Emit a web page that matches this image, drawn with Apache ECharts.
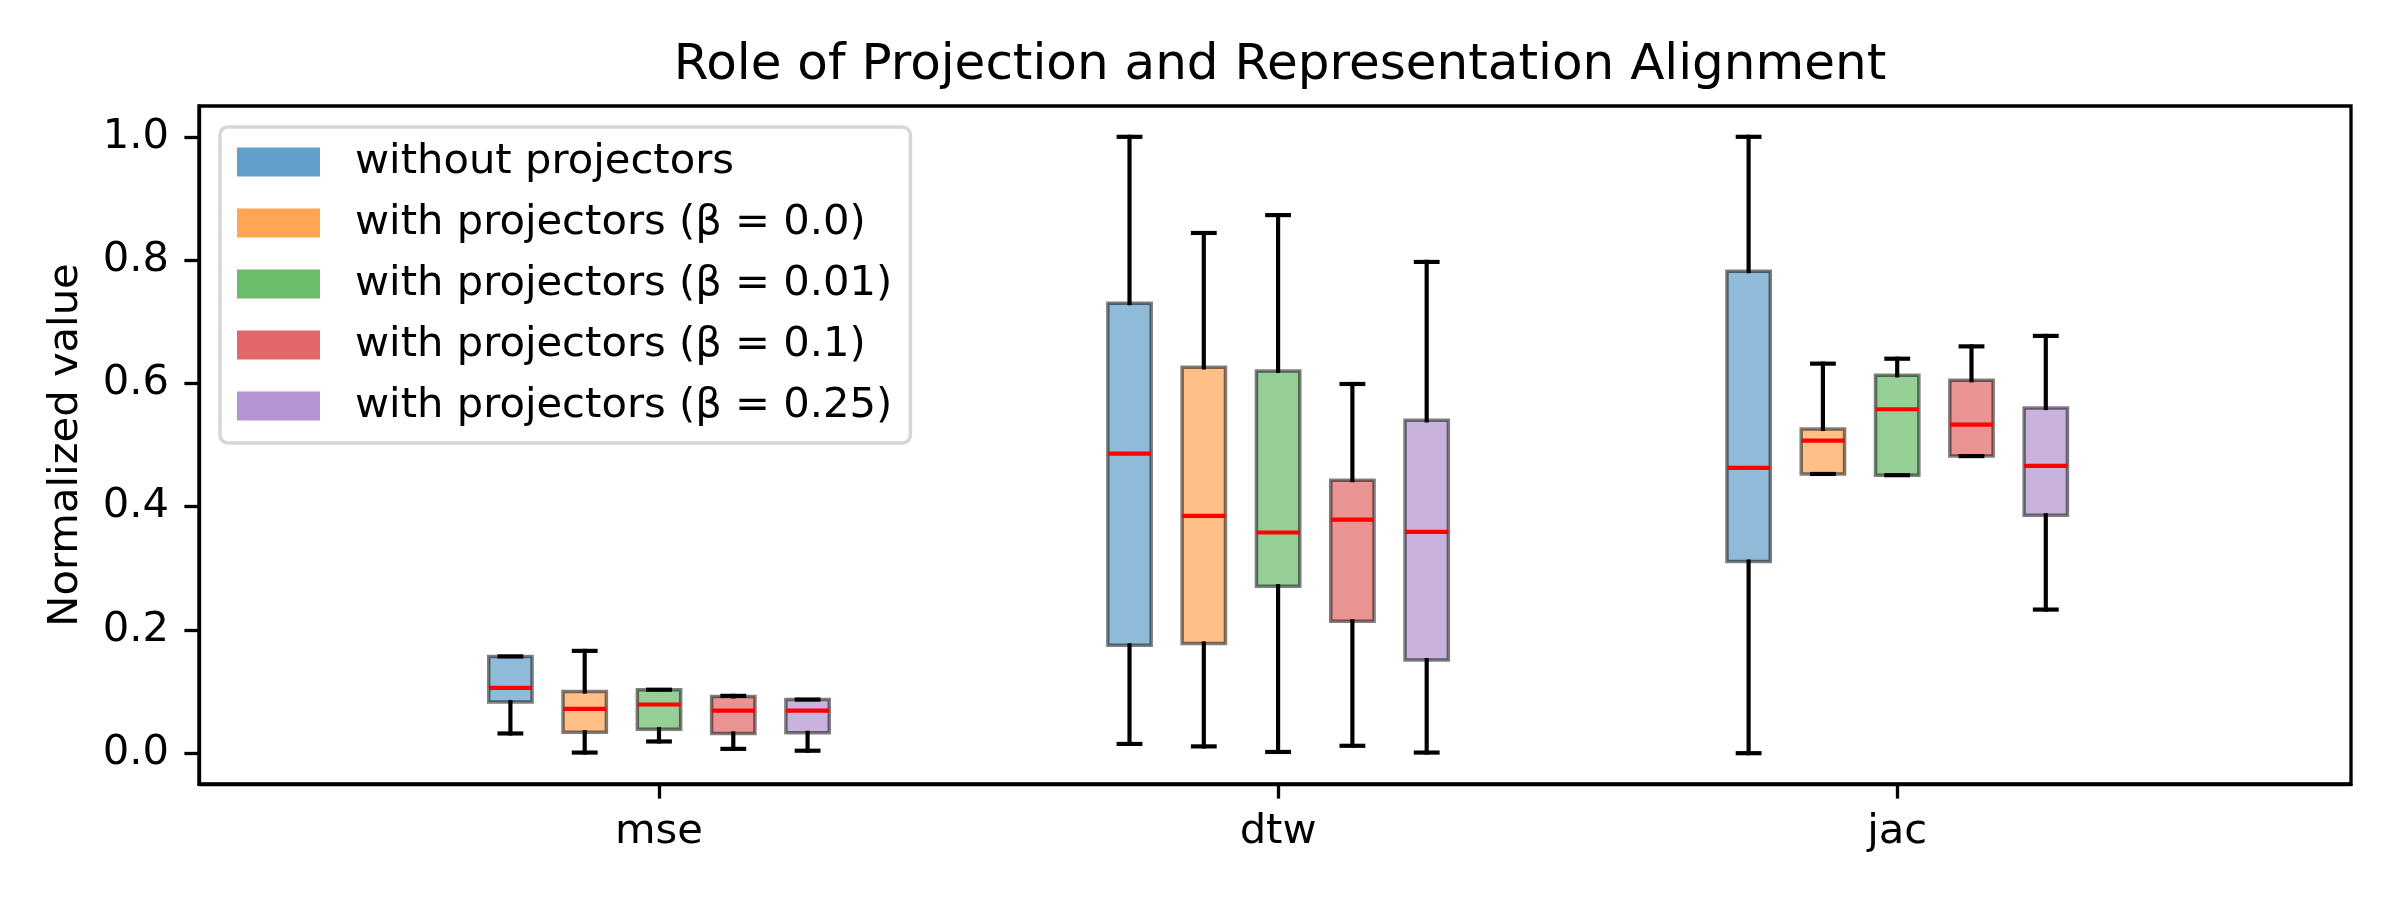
<!DOCTYPE html>
<html>
<head>
<meta charset="utf-8">
<title>Role of Projection and Representation Alignment</title>
<script src="https://cdn.jsdelivr.net/npm/echarts@6/dist/echarts.min.js"></script>
<style>
  html, body { margin: 0; padding: 0; background: #fff; }
  #chart { width: 2400px; height: 900px; }
</style>
</head>
<body>
<div id="chart"></div>
<script>
// 数据：每个箱子 [下须, Q1, 中位数, Q3, 上须]
const categories = ['mse', 'dtw', 'jac'];
const seriesNames = [
  'without projectors',
  'with projectors (β = 0.0)',
  'with projectors (β = 0.01)',
  'with projectors (β = 0.1)',
  'with projectors (β = 0.25)'
];
const boxWithout = [
  [0.032, 0.083, 0.106, 0.157, 0.157],
  [0.015, 0.175, 0.486, 0.730, 1.000],
  [0.000, 0.311, 0.463, 0.782, 1.000]
];
const boxBeta000 = [
  [0.001, 0.034, 0.072, 0.100, 0.166],
  [0.011, 0.178, 0.385, 0.626, 0.844],
  [0.453, 0.453, 0.507, 0.526, 0.632]
];
const boxBeta001 = [
  [0.019, 0.039, 0.079, 0.103, 0.103],
  [0.002, 0.271, 0.358, 0.620, 0.873],
  [0.451, 0.451, 0.558, 0.613, 0.640]
];
const boxBeta010 = [
  [0.007, 0.032, 0.069, 0.092, 0.093],
  [0.012, 0.214, 0.379, 0.443, 0.599],
  [0.482, 0.482, 0.533, 0.605, 0.660]
];
const boxBeta025 = [
  [0.004, 0.033, 0.069, 0.087, 0.087],
  [0.001, 0.151, 0.359, 0.540, 0.797],
  [0.233, 0.386, 0.466, 0.560, 0.677]
];
const yTicks = [0, 0.2, 0.4, 0.6, 0.8, 1.0];

// 样式
const baseColors = [
  [31, 119, 180],
  [255, 127, 14],
  [44, 160, 44],
  [214, 39, 40],
  [148, 103, 189]
];
const FONT = 'DejaVu Sans';
const BOX_W = 0.07;      // 箱宽（x 轴单位）
const BOX_STEP = 0.12;   // 组内间距
const LW = 4.17;         // 1pt @300dpi

function rgba(c, a) {
  return `rgba(${c[0]}, ${c[1]}, ${c[2]}, ${a})`;
}

// 画一个箱线图
function makeRenderItem(fill) {
  return function(params, api) {
    const x = api.value(0);
    const pLow = api.coord([x, api.value(1)]);
    const pQ1 = api.coord([x, api.value(2)]);
    const pMed = api.coord([x, api.value(3)]);
    const pQ3 = api.coord([x, api.value(4)]);
    const pHigh = api.coord([x, api.value(5)]);
    const xl = api.coord([x - BOX_W / 2, 0])[0];
    const xr = api.coord([x + BOX_W / 2, 0])[0];
    const cl = api.coord([x - BOX_W / 4, 0])[0];
    const cr = api.coord([x + BOX_W / 4, 0])[0];
    const cx = pMed[0];
    const lineStyle = { stroke: '#000', lineWidth: LW, lineCap: 'square' };
    return {
      type: 'group',
      children: [{
        type: 'rect',
        shape: { x: xl, y: pQ3[1], width: xr - xl, height: pQ1[1] - pQ3[1] },
        style: { fill: fill, stroke: 'rgba(0, 0, 0, 0.5)', lineWidth: 3.5 }
      }, {
        type: 'line',
        shape: { x1: cx, y1: pQ1[1], x2: cx, y2: pLow[1] },
        style: lineStyle
      }, {
        type: 'line',
        shape: { x1: cx, y1: pQ3[1], x2: cx, y2: pHigh[1] },
        style: lineStyle
      }, {
        type: 'line',
        shape: { x1: cl, y1: pLow[1], x2: cr, y2: pLow[1] },
        style: lineStyle
      }, {
        type: 'line',
        shape: { x1: cl, y1: pHigh[1], x2: cr, y2: pHigh[1] },
        style: lineStyle
      }, {
        type: 'line',
        shape: { x1: xl, y1: pMed[1], x2: xr, y2: pMed[1] },
        style: { stroke: '#ff0000', lineWidth: LW, lineCap: 'butt' }
      }]
    };
  };
}

const allBoxes = [boxWithout, boxBeta000, boxBeta001, boxBeta010, boxBeta025];

const series = allBoxes.map(function(boxes, s) {
  const offset = (s - 2) * BOX_STEP;
  return {
    name: seriesNames[s],
    type: 'custom',
    renderItem: makeRenderItem(rgba(baseColors[s], 0.5)),
    itemStyle: { color: rgba(baseColors[s], 0.7) },
    encode: { x: 0, y: [1, 2, 3, 4, 5] },
    data: boxes.map(function(b, i) {
      return [i + offset].concat(b);
    }),
    z: 2
  };
});

const chart = echarts.init(document.getElementById('chart'), null, { renderer: 'canvas' });
chart.setOption({
  animation: false,
  backgroundColor: '#fff',
  textStyle: { fontFamily: FONT },
  title: {
    text: 'Role of Projection and Representation Alignment',
    left: 1275,
    top: 36,
    textAlign: 'center',
    textStyle: { fontFamily: FONT, fontSize: 50, fontWeight: 'normal', color: '#000' }
  },
  legend: {
    orient: 'vertical',
    left: 220,
    top: 127,
    padding: [14, 18, 16, 17],
    itemWidth: 83,
    itemHeight: 29,
    itemGap: 19,
    icon: 'rect',
    backgroundColor: 'rgba(255, 255, 255, 0.8)',
    borderColor: '#d6d6d6',
    borderWidth: 3.5,
    borderRadius: 8,
    textStyle: {
      fontFamily: FONT,
      fontSize: 41.7,
      lineHeight: 42,
      color: '#000',
      padding: [0, 0, 0, 30]
    },
    data: seriesNames
  },
  grid: {
    left: 199,
    right: 49,
    top: 106,
    bottom: 116,
    containLabel: false,
    outerBoundsMode: 'none',
    show: true,
    borderColor: '#000',
    borderWidth: 3.33,
    backgroundColor: 'transparent'
  },
  xAxis: {
    type: 'value',
    min: -0.743,
    max: 2.733,
    splitLine: { show: false },
    axisLine: { show: true, onZero: false, lineStyle: { color: '#000', width: 3.33 } },
    axisTick: {
      show: true,
      length: 14.6,
      customValues: [0, 1, 2],
      lineStyle: { color: '#000', width: 3.33 }
    },
    axisLabel: {
      customValues: [0, 1, 2],
      formatter: function(v) { return categories[Math.round(v)]; },
      fontFamily: FONT,
      fontSize: 41.7,
      color: '#000',
      margin: 27
    }
  },
  yAxis: {
    type: 'value',
    min: -0.05,
    max: 1.05,
    splitLine: { show: false },
    axisLine: { show: true, onZero: false, lineStyle: { color: '#000', width: 3.33 } },
    axisTick: {
      show: true,
      length: 14.6,
      customValues: yTicks,
      lineStyle: { color: '#000', width: 3.33 }
    },
    axisLabel: {
      customValues: yTicks,
      formatter: function(v) { return v.toFixed(1); },
      fontFamily: FONT,
      fontSize: 41.7,
      color: '#000',
      margin: 30
    },
    name: 'Normalized value',
    nameLocation: 'middle',
    nameGap: 112,
    nameTextStyle: { fontFamily: FONT, fontSize: 41.7, color: '#000' }
  },
  series: series
});
</script>
</body>
</html>
